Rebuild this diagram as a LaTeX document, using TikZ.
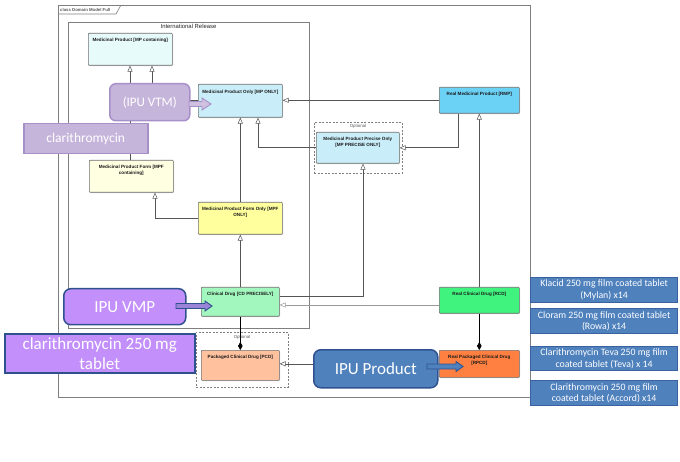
\documentclass[tikz,border=0pt]{standalone}
\usepackage{fontspec}
\setmainfont{Liberation Sans}
\newfontfamily\calib{Carlito}
\usetikzlibrary{arrows.meta,shadows}

\definecolor{lineclr}{HTML}{555555}
\definecolor{frameclr}{HTML}{7F7F7F}
\definecolor{boxedge}{HTML}{6E6E6E}
\definecolor{clstxt}{HTML}{1A1A1A}
\definecolor{mpcfill}{HTML}{E8FBFB}
\definecolor{mponlyfill}{HTML}{C9EEF9}
\definecolor{rmpfill}{HTML}{6CD2F5}
\definecolor{mpffill}{HTML}{FFFFE2}
\definecolor{mpfofill}{HTML}{FFFF9E}
\definecolor{cdfill}{HTML}{A2F7BE}
\definecolor{rcdfill}{HTML}{40F27E}
\definecolor{pcdfill}{HTML}{FFC19E}
\definecolor{rpcdfill}{HTML}{FF8040}
\definecolor{lilac}{HTML}{C6B5DB}
\definecolor{lilacedge}{HTML}{A78FC8}
\definecolor{violet}{HTML}{C28FFB}
\definecolor{violetarrow}{HTML}{9A84D8}
\definecolor{navyedge}{HTML}{2F528F}
\definecolor{steel}{HTML}{4F81BD}
\definecolor{steeledge}{HTML}{3A62A0}

\begin{document}
\begin{tikzpicture}[x=1pt,y=-1pt,
  cls/.style={draw=boxedge, line width=0.6pt, anchor=north west, inner sep=0,
    rounded corners=0.8pt,
    drop shadow={shadow xshift=0.8pt, shadow yshift=-0.8pt, opacity=0.35}},
  clstext/.style={font=\fontsize{4.6pt}{5.6pt}\selectfont\bfseries, text=clstxt,
    align=center, anchor=north, inner sep=0},
  frame/.style={draw=frameclr, line width=0.6pt, anchor=north west, inner sep=0},
  optframe/.style={frame, dashed, dash pattern=on 2pt off 1.5pt},
  small/.style={font=\fontsize{4.4pt}{5pt}\selectfont, text=frameclr!70!black, inner sep=0},
  gen/.style={draw=lineclr, line width=0.6pt,
    -{Triangle[length=6pt, width=5pt, fill=white, line width=0.5pt]}},
  comp/.style={draw=black, line width=0.6pt,
    -{Diamond[length=8pt, width=4.5pt, fill=black]}},
  lilacbox/.style={fill=lilac, draw=lilacedge, line width=1.5pt, anchor=north west,
    inner sep=0, text=white, align=center},
  violetbox/.style={fill=violet, draw=navyedge, line width=1.5pt, anchor=north west,
    inner sep=0, text=white, align=center},
  steelbox/.style={fill=steel, draw=steeledge, line width=1.2pt, anchor=north west,
    inner sep=0, text=white, align=center},
  blockarrow/.style={line width=0.9pt, line join=miter}
]
\useasboundingbox (0,0) rectangle (680,462);

% frames
\node[frame, minimum width=472pt, minimum height=392pt] (outer) at (58,5) {};
\draw[frameclr, line width=0.6pt] (58,14) -- (116,14) -- (121,5);
\node[small, font=\fontsize{4.3pt}{5pt}\selectfont\bfseries, anchor=west] (outertitle) at (60,9.6) {class Domain Model Full};

\node[frame, minimum width=241pt, minimum height=306pt] (intl) at (68,22) {};
\node[inner sep=0, font=\fontsize{5.9pt}{7pt}\selectfont, text=black!85, anchor=north] (intltitle) at (188.5,24) {International Release};

\node[optframe, minimum width=88pt, minimum height=51pt] (opt1) at (314,122) {};
\node[small, anchor=north] (opt1title) at (358,124.5) {Optional};
\node[optframe, minimum width=92pt, minimum height=55pt] (opt2) at (196,332) {};
\node[small, anchor=north] (opt2title) at (242,335) {Optional};

% classes
\node[cls, fill=mpcfill, minimum width=84pt, minimum height=32pt] (mpc) at (88,33) {};
\node[cls, fill=mponlyfill, minimum width=84pt, minimum height=33pt] (mponly) at (198,84) {};
\node[cls, fill=rmpfill, minimum width=80pt, minimum height=26pt] (rmp) at (439,87) {};
\node[cls, fill=mponlyfill, minimum width=83pt, minimum height=31pt] (mpp) at (316,132) {};
\node[cls, fill=mpffill, minimum width=84pt, minimum height=32pt] (mpfc) at (89,160) {};
\node[cls, fill=mpfofill, minimum width=84pt, minimum height=32pt] (mpfo) at (198,202) {};
\node[cls, fill=cdfill, minimum width=78pt, minimum height=29pt] (cd) at (201,287) {};
\node[cls, fill=rcdfill, minimum width=80pt, minimum height=26pt] (rcd) at (439,287) {};
\node[cls, fill=pcdfill, minimum width=78pt, minimum height=30pt] (pcd) at (201,350) {};
\node[cls, fill=rpcdfill, minimum width=80pt, minimum height=27pt] (rpcd) at (439,350) {};

\node[clstext] (mpcT) at ([yshift=-5pt]mpc.north) {Medicinal Product [MP containing]};
\node[clstext] (mponlyT) at ([yshift=-6pt]mponly.north) {Medicinal Product Only [MP ONLY]};
\node[clstext] (rmpT) at ([yshift=-5pt]rmp.north) {Real Medicinal Product [RMP]};
\node[clstext] (mppT) at ([yshift=-5pt]mpp.north) {Medicinal Product Precise Only\\{}[MP PRECISE ONLY]};
\node[clstext] (mpfcT) at ([yshift=-5pt]mpfc.north) {Medicinal Product Form [MPF\\containing]};
\node[clstext] (mpfoT) at ([yshift=-5pt]mpfo.north) {Medicinal Product Form Only [MPF\\ONLY]};
\node[clstext] (cdT) at ([yshift=-5pt]cd.north) {Clinical Drug [CD PRECISELY]};
\node[clstext] (rcdT) at ([yshift=-5pt]rcd.north) {Real Clinical Drug [RCD]};
\node[clstext] (pcdT) at ([yshift=-5pt]pcd.north) {Packaged Clinical Drug [PCD]};
\node[clstext] (rpcdT) at ([yshift=-5pt]rpcd.north) {Real Packaged Clinical Drug\\{}[RPCD]};

% connector bend points
\coordinate (mpcL) at ([xshift=42pt]mpc.south west);
\coordinate (mpcR) at ([xshift=64pt]mpc.south west);
\coordinate (mponlyR) at ([xshift=60pt]mponly.south west);
\coordinate (rmpOut) at ([xshift=19pt]rmp.south west);
\coordinate (mppIn) at ([xshift=47pt]mpp.south west);
\coordinate (cdOut) at ([yshift=-9pt]cd.north east);
\coordinate (rcdOut) at ([yshift=-18pt]rcd.north west);
\coordinate (mpfcIn) at ([xshift=66pt]mpfc.south west);

% generalisations
\draw[gen] (mpfc.north -| mpcL) -- (mpcL);
\draw[gen] (mponly.west) -| (mpcR);
\draw[gen] (rmp.west) -- (rmp.west -| mponly.east);
\draw[gen] (mpfo.north) -- (mponly.south);
\draw[gen] (mpp.west) -| (mponlyR);
\draw[gen] (rmpOut) |- (mpp.east);
\draw[gen] (cdOut) -| (mppIn);
\draw[gen, draw=lineclr!60] (rcdOut) -- (rcdOut -| cd.east);
\draw[gen] (rcd.north) -- (rcd.north |- rmp.south);
\draw[gen] (mpfo.west) -| (mpfcIn);
\draw[gen] (cd.north) -- (mpfo.south);
\draw[gen] (rpcd.west) -- (rpcd.west -| pcd.east);

% compositions
\draw[comp] (cd.south) -- (pcd.north);
\draw[comp] (rcd.south) -- (rpcd.north);

% overlay callouts
\node[lilacbox, rounded corners=6pt, minimum width=80pt, minimum height=37pt,
  font=\calib\fontsize{13pt}{15pt}\selectfont] (vtm) at (109,83) {(IPU VTM)};
\node[lilacbox, minimum width=124pt, minimum height=30pt,
  font=\calib\fontsize{13.5pt}{15pt}\selectfont] (clar) at (23,123) {clarithromycin};
\node[violetbox, rounded corners=7pt, minimum width=122pt, minimum height=36pt,
  font=\calib\fontsize{17pt}{19pt}\selectfont] (vmp) at (63,288) {IPU VMP};
\node[violetbox, minimum width=190pt, minimum height=39pt,
  font=\calib\fontsize{17pt}{20pt}\selectfont] (clartab) at (4,333) {clarithromycin 250 mg\\tablet};
\node[steelbox, draw=navyedge, line width=1.5pt, rounded corners=7pt, minimum width=124pt, minimum height=38pt,
  font=\calib\fontsize{17pt}{19pt}\selectfont] (product) at (313,349) {IPU Product};

% block arrows
\filldraw[blockarrow, fill=lilac!85!white, draw=lilacedge]
  (189,101.5) -- (202,101.5) -- (202,98) -- (211,104) -- (202,110) -- (202,106.5) -- (189,106.5) -- cycle;
\filldraw[blockarrow, fill=violetarrow, draw=navyedge]
  (176,303.5) -- (205,303.5) -- (205,301) -- (212,306) -- (205,311) -- (205,308.5) -- (176,308.5) -- cycle;
\filldraw[blockarrow, fill=steel, draw=navyedge]
  (427,364) -- (456,364) -- (456,361.5) -- (463,366.5) -- (456,371.5) -- (456,369) -- (427,369) -- cycle;

% product list
\begin{scope}[every node/.style={steelbox, minimum width=147pt,
    font=\calib\fontsize{9.8pt}{11.6pt}\selectfont}]
\node[minimum height=25pt] (p1) at (530,277) {Klacid 250 mg film coated tablet\\(Mylan) x14};
\node[minimum height=25pt] (p2) at (530,308) {Cloram 250 mg film coated tablet\\(Rowa) x14};
\node[minimum height=24pt] (p3) at (530,346) {Clarithromycin Teva 250 mg film\\coated tablet (Teva) x 14};
\node[minimum height=25pt] (p4) at (530,380) {Clarithromycin 250 mg film\\coated tablet (Accord) x14};
\end{scope}
\end{tikzpicture}
\end{document}
